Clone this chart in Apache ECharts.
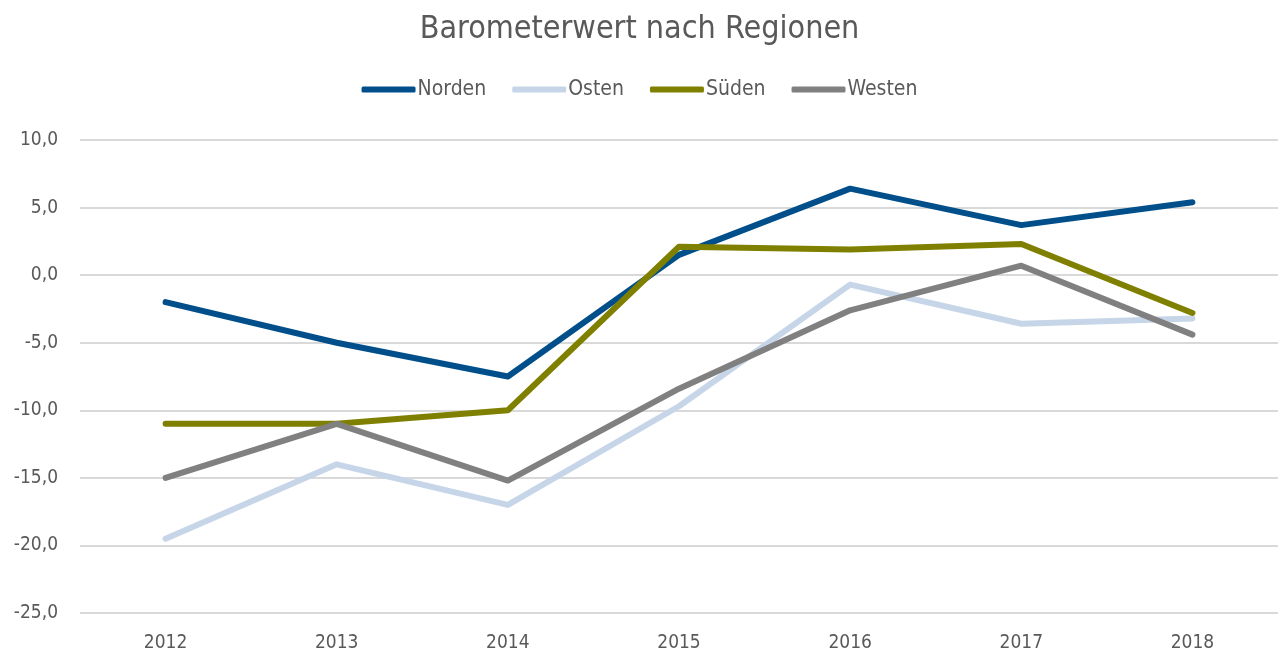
<!DOCTYPE html>
<html>
<head>
<meta charset="utf-8">
<script src="https://cdn.jsdelivr.net/npm/echarts@6/dist/echarts.min.js"></script>
<style>
  html, body { margin: 0; padding: 0; background: #fff; }
  #main { width: 1279px; height: 655px; }
</style>
</head>
<body>
<div id="main"></div>
<script>
// Jahre und Barometerwerte je Region
const years = ['2012', '2013', '2014', '2015', '2016', '2017', '2018'];
const norden = [-2.0, -5.0, -7.5, 1.5, 6.4, 3.7, 5.4];
const osten = [-19.5, -14.0, -17.0, -9.7, -0.7, -3.6, -3.2];
const sueden = [-11.0, -11.0, -10.0, 2.1, 1.9, 2.3, -2.8];
const westen = [-15.0, -11.0, -15.2, -8.4, -2.6, 0.7, -4.4];

const font = '"DejaVu Sans Condensed", "Roboto", sans-serif';
const textColor = '#595959';

const myChart = echarts.init(document.getElementById('main'));

function line(name, data, color) {
  return {
    name: name,
    type: 'line',
    data: data,
    symbol: 'none',
    lineStyle: { width: 6, color: color, cap: 'round', join: 'round' },
    itemStyle: { color: color },
    animation: false
  };
}

const option = {
  backgroundColor: '#fff',
  title: {
    text: 'Barometerwert nach Regionen',
    left: 'center',
    top: 9,
    textStyle: { fontFamily: font, fontSize: 32, fontWeight: 'normal', color: textColor }
  },
  legend: {
    top: 74,
    left: 'center',
    itemWidth: 54,
    itemHeight: 6,
    itemGap: 26,
    icon: 'roundRect',
    itemStyle: { borderWidth: 0 },
    textStyle: { fontFamily: font, fontSize: 21, color: textColor, padding: [0, 0, 0, -3] },
    data: ['Norden', 'Osten', 'Süden', 'Westen']
  },
  grid: { left: 80, right: 1, top: 140, bottom: 42, containLabel: false },
  xAxis: {
    type: 'category',
    data: years,
    boundaryGap: true,
    axisLine: { show: false },
    axisTick: { show: false },
    axisLabel: { fontFamily: font, fontSize: 19, color: textColor, margin: 21 }
  },
  yAxis: {
    type: 'value',
    min: -25,
    max: 10,
    interval: 5,
    axisLine: { show: false },
    axisTick: { show: false },
    splitLine: { lineStyle: { color: '#d9d9d9', width: 2 } },
    axisLabel: {
      fontFamily: font, fontSize: 19, color: textColor, margin: 22,
      formatter: v => v.toFixed(1).replace('.', ',')
    }
  },
  series: [
    line('Norden', norden, '#004f8b'),
    line('Osten', osten, '#c6d6e8'),
    line('Süden', sueden, '#808000'),
    line('Westen', westen, '#808080')
  ]
};

myChart.setOption(option);
</script>
</body>
</html>
